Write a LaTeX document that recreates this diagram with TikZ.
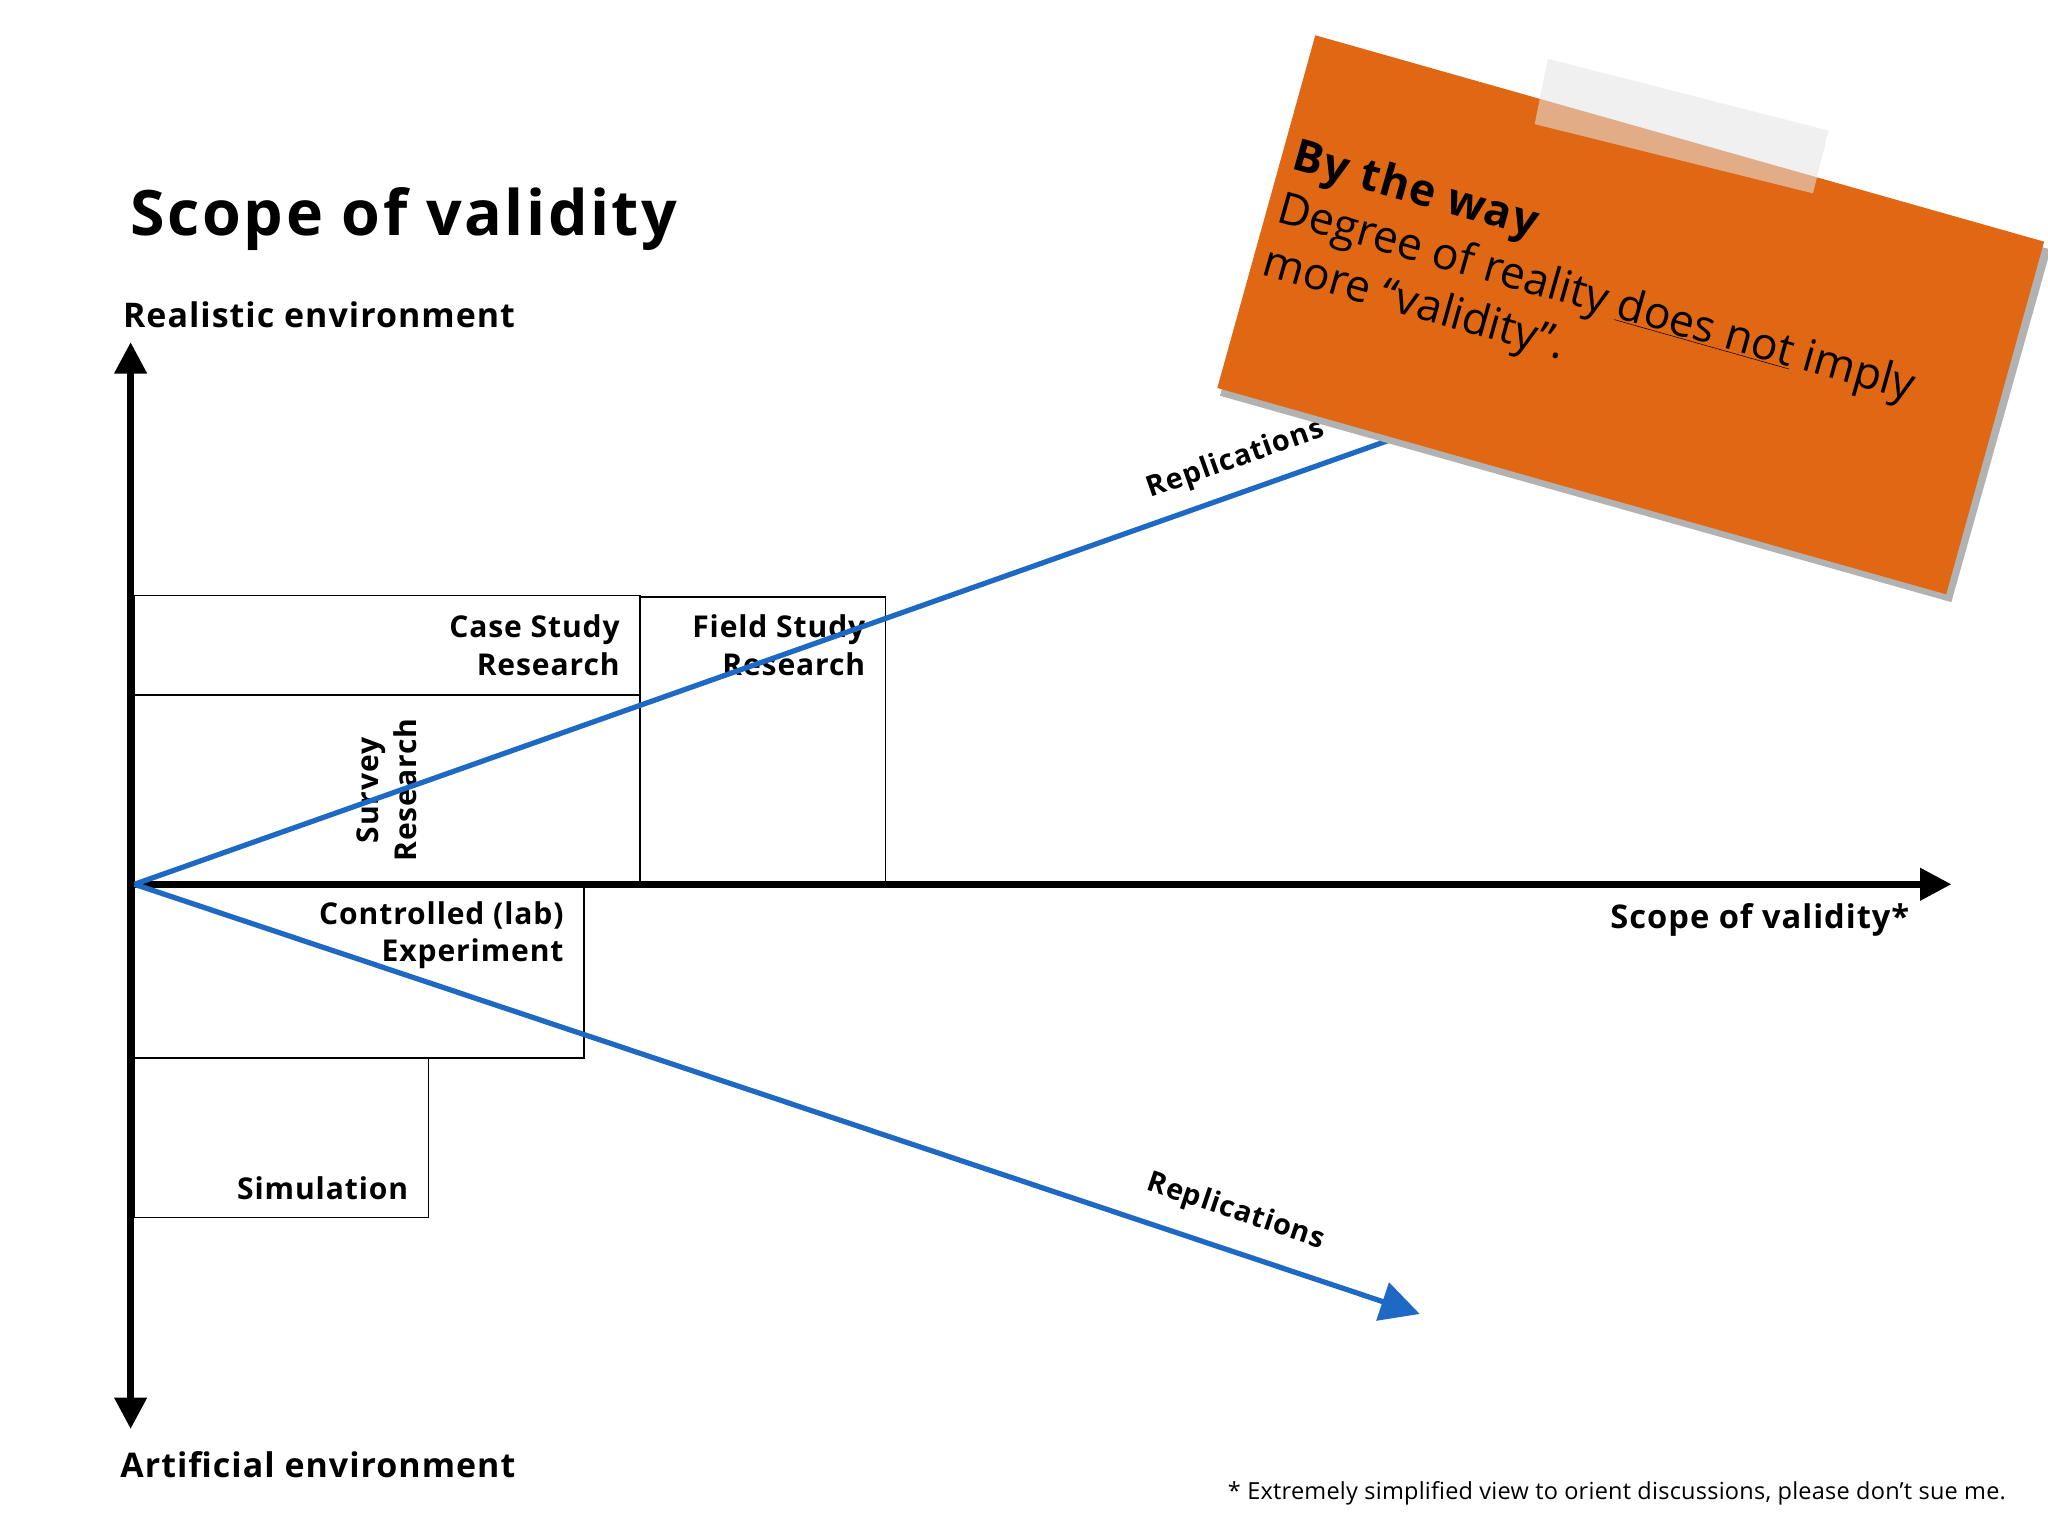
\documentclass[tikz,border=0pt]{standalone}
\usepackage{fontspec}
\setmainfont{Open Sans}
\usetikzlibrary{arrows.meta}
\definecolor{blueline}{RGB}{30,105,195}
\definecolor{note}{RGB}{224,104,20}
\newcommand{\wide}[1]{\addfontfeatures{LetterSpace=#1}}
\tikzset{
  boxr/.style={draw,line width=1.2pt},
  lbl/.style={font=\fontsize{23}{29}\selectfont\bfseries\wide{3},align=right},
  axis/.style={line width=5pt,-{Triangle[length=24pt,width=24pt]}},
  rep/.style={draw=blueline,line width=4pt},
  replbl/.style={font=\fontsize{22}{26}\selectfont\bfseries\wide{3}},
}
\begin{document}
\begin{tikzpicture}[x=1pt,y=-1pt]
\useasboundingbox (0,0) rectangle (1568,1176);
\fill[white] (0,0) rectangle (1568,1176);
% boxes
\draw[boxr] (103,456) rectangle (490,532);
\draw[boxr] (103,532) rectangle (490,677);
\draw[boxr] (490,457) rectangle (678,677);
\draw[boxr] (103,677) rectangle (447,810);
\draw[boxr] (103,810) rectangle (328,932);
\node[lbl,anchor=east] (cs) at (478,494) {Case Study\\Research};
\node[lbl,anchor=east] (fs) at (666,494) {Field Study\\Research};
\node[lbl,rotate=90,align=center] (sv) at (296,605) {Survey\\Research};
\node[lbl,anchor=east] (ce) at (435,716) {Controlled (lab)\\Experiment};
\node[lbl,anchor=east] (si) at (316,910) {Simulation};
% axes
\coordinate (top) at (100,262);
\coordinate (bot) at (100,1094);
\coordinate (rt) at (1494,677);
\draw[axis] (100,677) -- (top);
\draw[axis] (100,677) -- (bot);
\draw[axis] (100,677) -- (rt);
% replications
\coordinate (o2) at (103,677);
\coordinate (u) at (1075,333);
\coordinate (d) at (1087,1006);
\draw[rep] (o2) -- (u);
\draw[rep,-{Triangle[length=30pt,width=30pt]}] (o2) -- (d);
\node[replbl,rotate=19.5] (r1) at (946,352) {Replications};
\node[replbl,rotate=-18.5] (r2) at (946,928) {Replications};
% texts
\node[anchor=base west,font=\fontsize{48}{50}\selectfont\bfseries\wide{4},inner sep=0] (title) at (100,180) {Scope of validity};
\node[anchor=base west,font=\fontsize{26}{30}\selectfont\bfseries\wide{3},inner sep=0] (re) at (94,251) {Realistic environment};
\node[anchor=base west,font=\fontsize{26}{30}\selectfont\bfseries\wide{3},inner sep=0] (ae) at (92,1131) {Artificial environment};
\node[anchor=base east,font=\fontsize{25}{30}\selectfont\bfseries\wide{3},inner sep=0] (sc) at (1462,711) {Scope of validity*};
\node[anchor=base east,font=\fontsize{18}{22}\selectfont\wide{1},inner sep=0] (fn) at (1536,1148) {* Extremely simplified view to orient discussions, please don’t sue me.};
% note
\fill[black!30] (1010,33) -- (1570,191) -- (1494,461) -- (934,303) -- cycle;
\fill[note] (1007,27) -- (1565,185) -- (1490,455) -- (932,297) -- cycle;
\fill[white!80!gray,opacity=0.55] (1185,45) -- (1400,100) -- (1388,148) -- (1175,95) -- cycle;
\node[rotate=-15.8,anchor=north west,align=left,inner sep=0,font=\fontsize{34}{42}\selectfont] (nt) at (995,104)
 {{\bfseries\wide{3}By the way}\\Degree of reality \underline{does not} imply\\more “validity”.};
\end{tikzpicture}
\end{document}
